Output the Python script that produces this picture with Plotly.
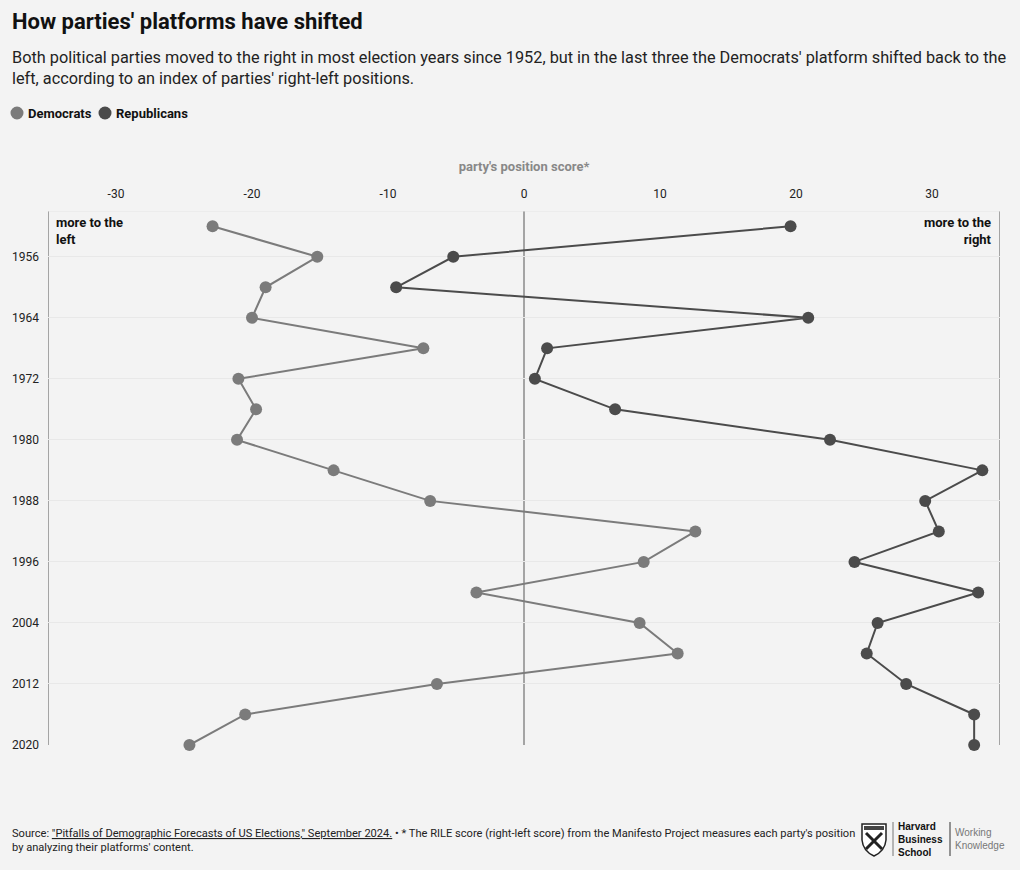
import plotly.graph_objects as go

years = [1952, 1956, 1960, 1964, 1968, 1972, 1976, 1980, 1984, 1988,
         1992, 1996, 2000, 2004, 2008, 2012, 2016, 2020]
democrats = [-22.9, -15.2, -19.0, -20.0, -7.4, -21.0, -19.7, -21.1, -14.0, -6.9,
             12.6, 8.8, -3.5, 8.5, 11.3, -6.4, -20.5, -24.6]
republicans = [19.6, -5.2, -9.4, 20.9, 1.7, 0.8, 6.7, 22.5, 33.7, 29.5,
               30.5, 24.3, 33.4, 26.0, 25.2, 28.1, 33.1, 33.1]
x_ticks = [-30, -20, -10, 0, 10, 20, 30]
y_ticks = [1956, 1964, 1972, 1980, 1988, 1996, 2004, 2012, 2020]

DEM = "#7b7b7b"
REP = "#4b4b4b"
BG = "#f3f3f3"
FONT = "Roboto"

W, H = 1020, 870
ML, MR, MT, MB = 48, 20, 211, 125
PW, PH = W - ML - MR, H - MT - MB


def px(x):
    return (x - ML) / PW


def py(y):
    return (H - MB - y) / PH


fig = go.Figure()
fig.add_trace(go.Scatter(x=democrats, y=years, mode="lines+markers", name="Democrats",
                         line=dict(color=DEM, width=2), marker=dict(size=12, color=DEM),
                         cliponaxis=False, showlegend=False))
fig.add_trace(go.Scatter(x=republicans, y=years, mode="lines+markers", name="Republicans",
                         line=dict(color=REP, width=2), marker=dict(size=12, color=REP),
                         cliponaxis=False, showlegend=False))

# vertical reference lines
for xv in [-35, 0, 35]:
    fig.add_shape(type="line", x0=xv, x1=xv, y0=1950, y1=2020, xref="x", yref="y",
                  line=dict(color="#8a8a8a", width=1.5), layer="below")
fig.add_shape(type="line", x0=-35, x1=35, y0=1950, y1=1950, xref="x", yref="y",
              line=dict(color="#e6e6e6", width=1), layer="below")

fig.update_layout(
    width=W, height=H,
    paper_bgcolor=BG, plot_bgcolor=BG,
    font=dict(family=FONT, color="#111111"),
    margin=dict(l=ML, r=MR, t=MT, b=MB),
    showlegend=False,
    xaxis=dict(range=[-35, 35], side="top", tickvals=x_ticks,
               ticktext=[str(v) for v in x_ticks],
               showgrid=False, zeroline=False, showline=False,
               tickfont=dict(size=12, color="#222222"), ticks="", ticklabelstandoff=10,
               title=dict(text="party's position score*", standoff=12,
                          font=dict(size=13, color="#888888", weight="bold"))),
    yaxis=dict(range=[2020, 1950], tickvals=y_ticks, ticktext=[str(v) for v in y_ticks],
               showgrid=True, gridcolor="#e8e8e8", gridwidth=1, zeroline=False,
               showline=False, ticks="", tickfont=dict(size=12, color="#222222"),
               ticklabelstandoff=8),
)

# title / subtitle
fig.add_annotation(text="<b>How parties' platforms have shifted</b>", xref="paper", yref="paper",
                   x=px(10), y=py(22), xanchor="left", yanchor="middle", showarrow=False,
                   font=dict(size=22, color="#111111", family=FONT))
fig.add_annotation(text="Both political parties moved to the right in most election years since 1952, but in the last three the Democrats' platform shifted back to the<br>left, according to an index of parties' right-left positions.",
                   xref="paper", yref="paper", x=px(10), y=py(68), xanchor="left", yanchor="middle",
                   align="left", showarrow=False,
                   font=dict(size=16.3, color="#222222", family=FONT))

# legend (manual)
legend_items = [("Democrats", DEM, 17, 26), ("Republicans", REP, 105, 114)]
for name, col, cx, tx in legend_items:
    fig.add_shape(type="circle", xref="paper", yref="paper",
                  x0=px(cx - 6.5), x1=px(cx + 6.5), y0=py(113 + 6.5), y1=py(113 - 6.5),
                  fillcolor=col, line=dict(width=0))
    fig.add_annotation(text=f"<b>{name}</b>", xref="paper", yref="paper", x=px(tx), y=py(113),
                       xanchor="left", yanchor="middle", showarrow=False,
                       font=dict(size=13, color="#111111", family=FONT))

fig.add_annotation(text="<b>more to the<br>left</b>", xref="paper", yref="paper", x=0.006, y=py(213),
                   xanchor="left", yanchor="top", align="left", showarrow=False,
                   font=dict(size=13, color="#111111", family=FONT))
fig.add_annotation(text="<b>more to the<br>right</b>", xref="paper", yref="paper", x=0.994, y=py(213),
                   xanchor="right", yanchor="top", align="right", showarrow=False,
                   font=dict(size=13, color="#111111", family=FONT))

# footer
fig.add_annotation(text="Source: <u>\"Pitfalls of Demographic Forecasts of US Elections,\" September 2024.</u> • * The RILE score (right-left score) from the Manifesto Project measures each party's position<br>by analyzing their platforms' content.",
                   xref="paper", yref="paper", x=px(10), y=py(840), xanchor="left", yanchor="middle",
                   align="left", showarrow=False,
                   font=dict(size=11.1, color="#222222", family=FONT))

# logo
fig.add_shape(type="path", xref="paper", yref="paper",
              path=(f"M {px(862)} {py(824)} L {px(886)} {py(824)} L {px(886)} {py(840)} "
                    f"Q {px(885)} {py(851)} {px(874)} {py(856)} Q {px(863)} {py(851)} {px(862)} {py(840)} Z"),
              fillcolor="#ffffff", line=dict(color="#222222", width=1.5))
fig.add_shape(type="path", xref="paper", yref="paper",
              path=f"M {px(864)} {py(826)} L {px(884)} {py(826)} L {px(884)} {py(830)} L {px(864)} {py(830)} Z",
              fillcolor="#444444", line=dict(width=0))
fig.add_shape(type="line", xref="paper", yref="paper", x0=px(866), y0=py(833), x1=px(882), y1=py(849),
              line=dict(color="#222222", width=3))
fig.add_shape(type="line", xref="paper", yref="paper", x0=px(882), y0=py(833), x1=px(866), y1=py(849),
              line=dict(color="#222222", width=3))
fig.add_shape(type="line", xref="paper", yref="paper", x0=px(893), x1=px(893), y0=py(822), y1=py(856),
              line=dict(color="#777777", width=1))
fig.add_shape(type="line", xref="paper", yref="paper", x0=px(950), x1=px(950), y0=py(822), y1=py(856),
              line=dict(color="#333333", width=1))
fig.add_annotation(text="<b>Harvard<br>Business<br>School</b>", xref="paper", yref="paper",
                   x=px(896), y=py(839), xanchor="left", yanchor="middle", align="left", showarrow=False,
                   font=dict(size=10, color="#111111", family="Liberation Sans"))
fig.add_annotation(text="Working<br>Knowledge", xref="paper", yref="paper",
                   x=px(953), y=py(839), xanchor="left", yanchor="middle", align="left", showarrow=False,
                   font=dict(size=10, color="#777777", family="Liberation Sans"))

fig.write_html("out.html", config={"displayModeBar": False},
               post_script="document.body.style.margin='0';document.body.style.overflow='hidden';")
